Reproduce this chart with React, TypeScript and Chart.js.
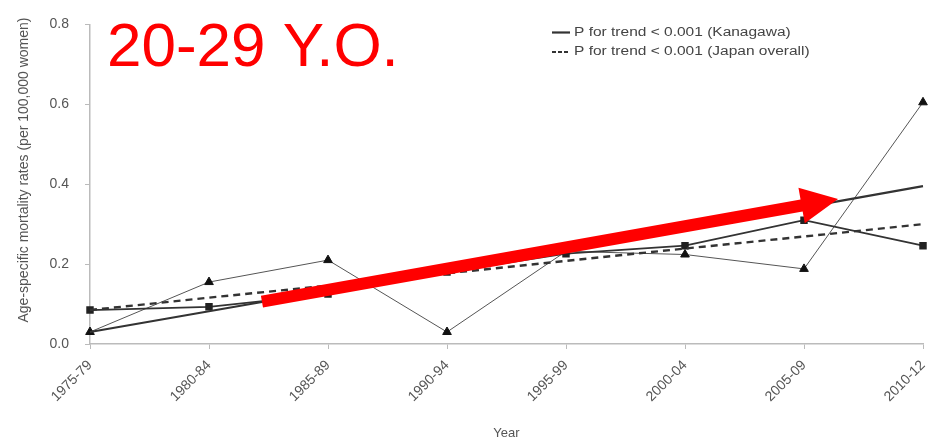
import React, { useEffect, useRef } from "react";
import { Chart, registerables } from "chart.js";

Chart.register(...registerables);

const periods = ["1975-79", "1980-84", "1985-89", "1990-94", "1995-99", "2000-04", "2005-09", "2010-12"];
const kanagawaRates = [0.03, 0.155, 0.21, 0.03, 0.232, 0.224, 0.188, 0.605];
const japanRates = [0.085, 0.093, 0.125, 0.18, 0.226, 0.246, 0.31, 0.246];
const kanagawaTrend = [0.03, 0.082, 0.134, 0.186, 0.238, 0.29, 0.342, 0.395];
const japanTrend = [0.085, 0.116, 0.146, 0.177, 0.208, 0.239, 0.269, 0.3];
const yTicks = [0, 0.2, 0.4, 0.6, 0.8];
const legendLabels = ["P for trend < 0.001 (Kanagawa)", "P for trend < 0.001 (Japan overall)"];
const overlayTitle = "20-29 Y.O.";
const yAxisTitle = "Age-specific mortality rates (per 100,000 women)";
const xAxisTitle = "Year";
// red arrow annotation, in data space: [category index, rate]
const arrowTail = [1.445, 0.106];
const arrowTip = [6.286, 0.363];

const FONT = "'Liberation Sans', Arial, sans-serif";
const TEXT = "#555";

const overlayPlugin = {
  id: "overlay",
  afterDatasetsDraw(chart: any) {
    const { ctx, scales } = chart;
    const xs = scales.x;
    const ys = scales.y;
    ctx.save();
    // y-axis title
    ctx.save();
    ctx.translate(24, 170);
    ctx.rotate(-Math.PI / 2);
    ctx.font = `14px ${FONT}`;
    ctx.fillStyle = TEXT;
    ctx.textAlign = "center";
    ctx.textBaseline = "middle";
    ctx.fillText(yAxisTitle, 0, 0);
    ctx.restore();

    // legend
    const lx = 552;
    const rows = [32.5, 52];
    const dashes = [[], [4, 2]];
    rows.forEach((ry, i) => {
      ctx.save();
      ctx.strokeStyle = "#333";
      ctx.lineWidth = 2.2;
      ctx.setLineDash(dashes[i]);
      ctx.beginPath();
      ctx.moveTo(lx, ry);
      ctx.lineTo(lx + 18, ry);
      ctx.stroke();
      ctx.restore();
      ctx.save();
      ctx.translate(lx + 22, ry);
      ctx.scale(1.24, 1);
      ctx.font = `12.5px ${FONT}`;
      ctx.fillStyle = "#444";
      ctx.textAlign = "left";
      ctx.textBaseline = "middle";
      ctx.fillText(legendLabels[i], 0, 0);
      ctx.restore();
    });

    // red arrow
    const x0 = xs.getPixelForValue(arrowTail[0]);
    const y0 = ys.getPixelForValue(arrowTail[1]);
    const x1 = xs.getPixelForValue(arrowTip[0]);
    const y1 = ys.getPixelForValue(arrowTip[1]);
    const ang = Math.atan2(y1 - y0, x1 - x0);
    const len = Math.hypot(x1 - x0, y1 - y0);
    const headLen = 37;
    const headHalf = 18;
    const shaftHalf = 6;
    ctx.save();
    ctx.translate(x0, y0);
    ctx.rotate(ang);
    ctx.fillStyle = "#ff0000";
    ctx.beginPath();
    ctx.moveTo(0, -shaftHalf);
    ctx.lineTo(len - headLen, -shaftHalf);
    ctx.lineTo(len - headLen, -headHalf);
    ctx.lineTo(len, 0);
    ctx.lineTo(len - headLen, headHalf);
    ctx.lineTo(len - headLen, shaftHalf);
    ctx.lineTo(0, shaftHalf);
    ctx.closePath();
    ctx.fill();
    ctx.restore();

    // big red title
    ctx.font = `62px ${FONT}`;
    ctx.fillStyle = "#ff0000";
    ctx.textAlign = "left";
    ctx.textBaseline = "alphabetic";
    ctx.fillText(overlayTitle, 107, 66);
    ctx.restore();
  },
};

export default function App() {
  const ref = useRef<HTMLCanvasElement>(null);
  useEffect(() => {
    if (!ref.current) return;
    const chart = new Chart(ref.current, {
      type: "line",
      data: {
        labels: periods,
        datasets: [
          {
            label: "Kanagawa trend",
            data: kanagawaTrend,
            borderColor: "#333",
            borderWidth: 2.2,
            pointRadius: 0,
            fill: false,
          },
          {
            label: "Japan overall trend",
            data: japanTrend,
            borderColor: "#333",
            borderWidth: 2.4,
            borderDash: [7, 5],
            pointRadius: 0,
            fill: false,
          },
          {
            label: "Japan overall",
            data: japanRates,
            borderColor: "#333",
            borderWidth: 1.8,
            pointStyle: "rect",
            pointRadius: 4,
            pointBackgroundColor: "#222",
            pointBorderColor: "#222",
            fill: false,
          },
          {
            label: "Kanagawa",
            data: kanagawaRates,
            borderColor: "#555",
            borderWidth: 1,
            pointStyle: "triangle",
            pointRadius: 5,
            pointBackgroundColor: "#111",
            pointBorderColor: "#111",
            fill: false,
          },
        ],
      },
      options: {
        responsive: false,
        animation: false,
        layout: { padding: { left: 0, top: 16, right: 28, bottom: 0 } },
        plugins: { legend: { display: false }, tooltip: { enabled: false } },
        scales: {
          x: {
            afterFit(scale: any) {
              scale.height = 94;
            },
            grid: { drawOnChartArea: false, tickLength: 5, color: "#bbb" },
            border: { color: "#bbb", width: 1.5 },
            ticks: {
              minRotation: 45,
              maxRotation: 45,
              padding: 8,
              color: TEXT,
              font: { family: FONT, size: 14 },
            },
            title: {
              display: true,
              text: xAxisTitle,
              color: TEXT,
              font: { family: FONT, size: 13 },
              padding: { top: 0, bottom: -3 },
            },
          },
          y: {
            min: 0,
            max: 0.8,
            afterFit(scale: any) {
              scale.width = 90;
            },
            afterBuildTicks(scale: any) {
              scale.ticks = yTicks.map((v) => ({ value: v }));
            },
            grid: { drawOnChartArea: false, tickLength: 5, color: "#bbb" },
            border: { color: "#bbb", width: 1.5 },
            ticks: {
              padding: 16,
              color: TEXT,
              font: { family: FONT, size: 14 },
              callback: (v: any) => Number(v).toFixed(1),
            },
          },
        },
      },
      plugins: [overlayPlugin],
    });
    return () => chart.destroy();
  }, []);
  return (
    <div style={{ position: "absolute", left: 0, top: 0, width: 951, height: 438, background: "#fff" }}>
      <canvas ref={ref} width={951} height={438} />
    </div>
  );
}
